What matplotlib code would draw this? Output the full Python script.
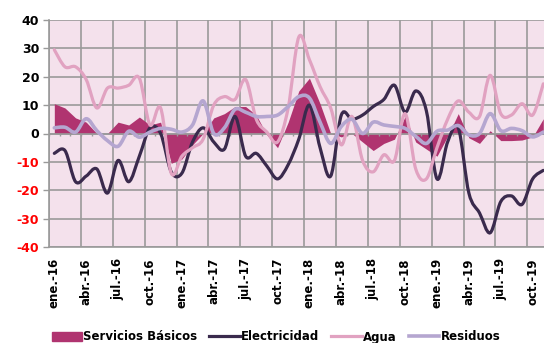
import numpy as np
import matplotlib
matplotlib.use("Agg")
import matplotlib.pyplot as plt
from matplotlib.path import Path
from matplotlib.patches import PathPatch
from matplotlib.lines import Line2D
from matplotlib.patches import Patch

# variacion interanual (%) por mes, ene-16 .. nov-19
meses = ['ene.', 'feb.', 'mar.', 'abr.', 'may.', 'jun.',
         'jul.', 'ago.', 'sep.', 'oct.', 'nov.', 'dic.']
periodos = [f"{m}-{a}" for a in (16, 17, 18, 19) for m in meses][:47]

servicios = [10.5, 9, 5.5, 4, 0, 0, 4, 3, 5.8, 3, 4, -10.5,
             -9, -4, 0, 5.5, 7, 9.5, 9.5, 6.5, -0.5, -5, 4, 15,
             19.5, 10.5, 0, -1.2, 0, -3, -6, -3.5, -2, 6, -3, -5.5,
             -8, -1, 7, -1.5, -3.5, 1, -2.5, -2.5, -2.3, -1.2, 5.2]
electricidad = [-7, -6, -17, -15, -12.5, -21, -9.5, -17, -8, 2, 0, -13.5,
                -14, -3, 2, -3, -5.5, 6, -8, -7, -11.5, -16, -11, -2,
                10, -5, -15, 6.5, 5, 6.5, 9.5, 12, 17, 7.5, 15, 8,
                -16, -3, 2, -21, -28, -35, -24, -22, -25, -16, -13]
agua = [29.5, 23.5, 23.5, 19, 9, 16, 16, 17, 19.5, 3, 9, -14,
        -8, -5, -2, 10, 13, 12, 19, 5, 0.5, -3, 9, 34,
        26, 16.5, 9, -4, 6, -9.5, -13.5, -7.5, -9.5, 7, -12.5, -16,
        -5, 5, 11.5, 7.5, 6, 20.5, 7, 6.5, 10.5, 6.5, 17.5]
residuos = [2, 2.2, 0.5, 5.2, 1, -2.5, -4.5, 0.8, -1.3, 0.5, 1.8, 1.5,
            0.5, 3, 11.5, 0, 2, 8.5, 7.5, 6, 6, 6.5, 9.5, 13,
            12.5, 4, -3.5, 2.5, 5, 0, 4, 3, 2.5, 1.8, -1, -3.5,
            0.8, 1.2, 2.8, -0.5, 0, 7, 1, 1.8, 1, -1.2, 0.5]

c_serv = '#B03470'
c_elec = '#3A2A4D'
c_agua = '#E1A2C1'
c_res = '#B5A6D0'
fondo = '#F4E1EC'
gris = '#9A9A9A'


def curva(x, y):
    # trazo suavizado tipo Excel (bezier cubica por los puntos)
    x = np.asarray(x, float)
    y = np.asarray(y, float)
    pts = np.column_stack([x, y])
    ext = np.vstack([pts[0], pts, pts[-1]])
    verts = [pts[0]]
    codes = [Path.MOVETO]
    for i in range(len(pts) - 1):
        p0, p1, p2, p3 = ext[i], ext[i + 1], ext[i + 2], ext[i + 3]
        verts += [p1 + (p2 - p0) / 6, p2 - (p3 - p1) / 6, p2]
        codes += [Path.CURVE4] * 3
    return Path(verts, codes)


n = len(periodos)
x = np.arange(n)

fig = plt.figure(figsize=(5.44, 3.43), dpi=100)
ax = fig.add_axes([49 / 544, 1 - 247 / 343, n * 10.63 / 544, 227 / 343])
ax.set_facecolor(fondo)

ax.fill_between(x, servicios, 0, color=c_serv, lw=0, zorder=2)
ax.axhline(0, color=gris, lw=1.2, zorder=2.5)
ax.vlines(np.arange(n + 1) - 0.5, -1.0, 0, color=gris, lw=1, zorder=2.5)

for serie, color, lw in [(electricidad, c_elec, 2.3),
                         (agua, c_agua, 2.3),
                         (residuos, c_res, 2.6)]:
    ax.add_patch(PathPatch(curva(x, serie), fill=False, edgecolor=color,
                           lw=lw, capstyle='round', joinstyle='round', zorder=3))

ax.set_xlim(-0.5, n - 0.5)
ax.set_ylim(-40, 40)

ax.set_yticks(np.arange(-40, 41, 10))
ax.set_yticklabels([str(v) for v in range(-40, 41, 10)],
                   fontsize=9, fontweight='bold')
for lab, v in zip(ax.get_yticklabels(), range(-40, 41, 10)):
    lab.set_color('red' if v < 0 else 'black')
ax.tick_params(axis='y', length=4, width=1, color=gris, pad=3)

ax.set_xticks(x[::3])
ax.set_xticklabels(periodos[::3], rotation=90, fontsize=8.5,
                   fontweight='bold', va='top', ha='center')
ax.set_xticks(np.arange(-0.5, n, 3), minor=True)
ax.tick_params(axis='x', which='both', length=0, pad=8)

ax.grid(True, axis='y', color=gris, lw=1.2)
ax.grid(True, axis='x', which='minor', color=gris, lw=1.2)
ax.set_axisbelow(True)
for s in ['top', 'right']:
    ax.spines[s].set_visible(False)
for s in ['left', 'bottom']:
    ax.spines[s].set_color(gris)
    ax.spines[s].set_linewidth(1.2)

handles = [Patch(color=c_serv),
           Line2D([], [], color=c_elec, lw=2.3),
           Line2D([], [], color=c_agua, lw=2.3),
           Line2D([], [], color=c_res, lw=2.6)]
nombres = ['Servicios Básicos', 'Electricidad', 'Agua', 'Residuos']
fig.legend(handles, nombres, loc='center', bbox_to_anchor=(276 / 544, 1 - 337 / 343),
           ncol=4, frameon=False, prop={'weight': 'bold', 'size': 8.5},
           handlelength=2.6, handletextpad=0.1, columnspacing=1.0,
           borderpad=0, borderaxespad=0)

fig.savefig('out.png', dpi=100)
